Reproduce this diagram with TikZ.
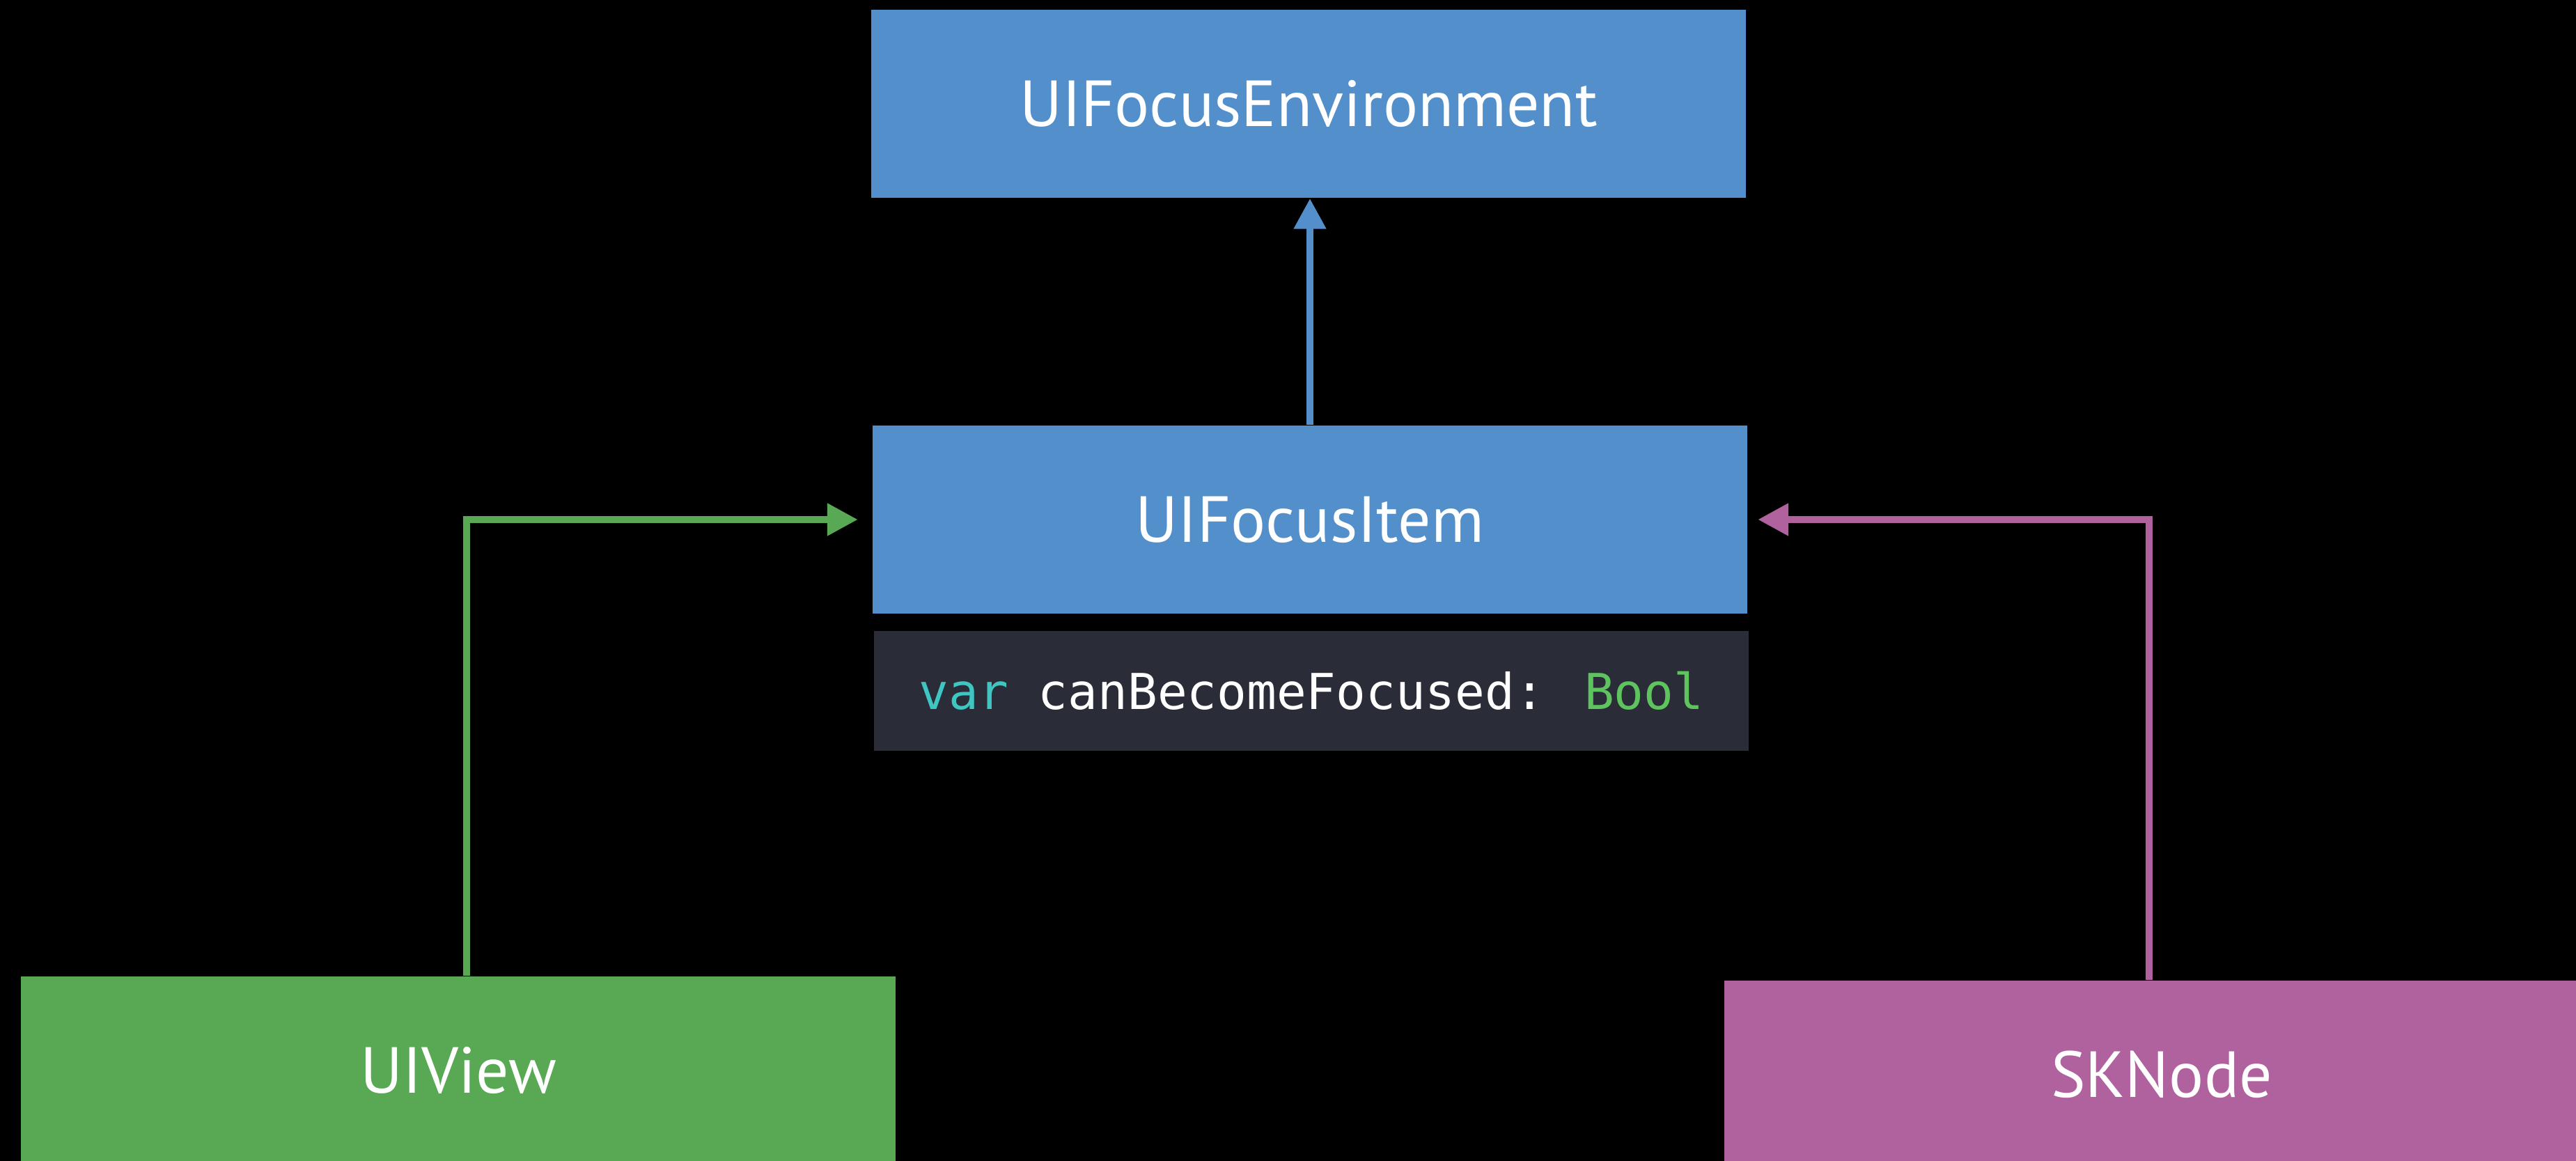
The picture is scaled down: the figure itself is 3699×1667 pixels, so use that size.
\documentclass[tikz,border=0pt]{standalone}
\usepackage{fontspec}
\setmainfont{PT Sans}
\newfontfamily\codefont{DejaVu Sans Mono}
\usetikzlibrary{arrows.meta}
\definecolor{focusblue}{HTML}{538FCB}
\definecolor{viewgreen}{HTML}{59A854}
\definecolor{nodepurple}{HTML}{B0629E}
\definecolor{codebg}{HTML}{2A2C38}
\definecolor{kwcyan}{HTML}{3FC6C2}
\definecolor{typegreen}{HTML}{5EC45E}
\tikzset{
  classbox/.style={rectangle, inner sep=0pt, minimum width=12.56cm, minimum height=2.70cm,
    text=white, font=\fontsize{26.6}{32}\selectfont},
  codebox/.style={rectangle, inner sep=0pt, fill=codebg, minimum width=12.56cm, minimum height=1.72cm,
    text=white, font=\codefont\fontsize{20.2}{25}\selectfont},
  link/.style={line width=3.1pt, -{Triangle[length=12.5pt,width=12.5pt]}}
}
\begin{document}
\begin{tikzpicture}[x=0.01cm, y=-0.01cm]
  \fill[black] (0,0) rectangle (3699,1667);
  \clip (0,0) rectangle (3699,1667);
  % protocol hierarchy
  \node[classbox, fill=focusblue] (env) at (1879,149) {UIFocusEnvironment};
  \node[classbox, fill=focusblue] (item) at (1881,746) {UIFocusItem};
  \node[codebox] (code) at (1883,992)
    {\textcolor{kwcyan}{var} canBecomeFocused: \textcolor{typegreen}{Bool}};
  % conforming classes
  \node[classbox, fill=viewgreen] (uiview) at (658,1537) {UIView};
  \node[classbox, fill=nodepurple] (sknode) at (3104,1543) {SKNode};
  % connectors
  \draw[link, focusblue] (item.north) -- (item.north |- env.south);
  \coordinate (gTip) at ([xshift=-0.20cm]item.west);
  \coordinate (pTip) at ([xshift=0.14cm]item.east);
  \draw[link, viewgreen] ([xshift=0.12cm]uiview.north) |- (gTip);
  \draw[link, nodepurple] ([xshift=-0.18cm]sknode.north) |- (pTip);
\end{tikzpicture}
\end{document}
